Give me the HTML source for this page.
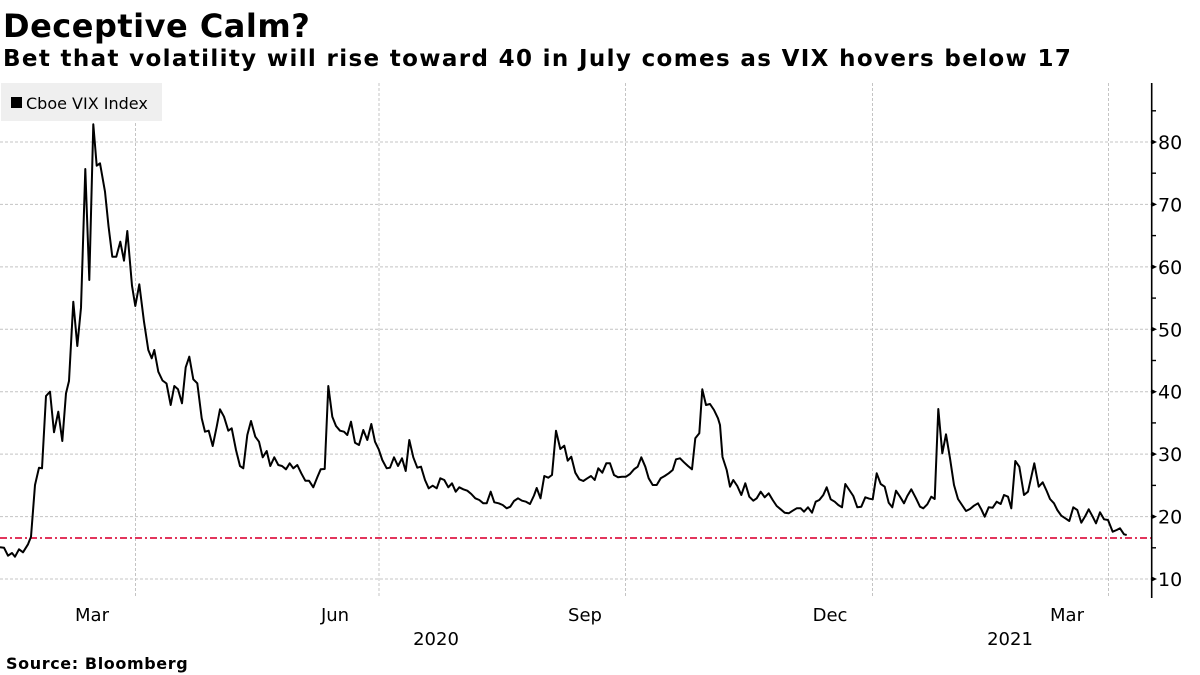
<!DOCTYPE html>
<html>
<head>
<meta charset="utf-8">
<style>
  html, body { margin:0; padding:0; background:#ffffff; }
  body { width:1200px; height:675px; overflow:hidden; }
  svg { display:block; }
  .t { font-family: "DejaVu Sans", "Liberation Sans", sans-serif; fill:#000; }
</style>
</head>
<body>
<svg width="1200" height="675" viewBox="0 0 1200 675" xmlns="http://www.w3.org/2000/svg">
  <rect x="0" y="0" width="1200" height="675" fill="#ffffff"/>

  <!-- Title -->
  <text class="t" x="3" y="37" font-size="32" font-weight="bold" letter-spacing="0.5">Deceptive Calm?</text>
  <text class="t" x="3" y="66" font-size="23" font-weight="bold" letter-spacing="1.35">Bet that volatility will rise toward 40 in July comes as VIX hovers below 17</text>

  <!-- Horizontal grid -->
  <g stroke="#c4c4c4" stroke-width="1" stroke-dasharray="3 2">
    <line x1="0" y1="579" x2="1151" y2="579"/>
    <line x1="0" y1="516.6" x2="1151" y2="516.6"/>
    <line x1="0" y1="454.1" x2="1151" y2="454.1"/>
    <line x1="0" y1="391.7" x2="1151" y2="391.7"/>
    <line x1="0" y1="329.3" x2="1151" y2="329.3"/>
    <line x1="0" y1="266.9" x2="1151" y2="266.9"/>
    <line x1="0" y1="204.4" x2="1151" y2="204.4"/>
    <line x1="0" y1="142" x2="1151" y2="142"/>
  </g>
  <!-- Vertical grid -->
  <g stroke="#c4c4c4" stroke-width="1" stroke-dasharray="3 2">
    <line x1="135.5" y1="83" x2="135.5" y2="598"/>
    <line x1="379" y1="83" x2="379" y2="598"/>
    <line x1="625.5" y1="83" x2="625.5" y2="598"/>
    <line x1="872.5" y1="83" x2="872.5" y2="598"/>
    <line x1="1108.5" y1="83" x2="1108.5" y2="598"/>
  </g>

  <!-- Legend -->
  <rect x="1" y="83" width="161" height="38" fill="#efefef"/>
  <rect x="11" y="97" width="11" height="11" fill="#000"/>
  <text class="t" x="26" y="109" font-size="16">Cboe VIX Index</text>

  <!-- Red reference line -->
  <line x1="0" y1="538" x2="1151" y2="538" stroke="#e2355c" stroke-width="2" stroke-dasharray="7 3 2 3"/>

  <!-- VIX series -->
  <polyline fill="none" stroke="#000" stroke-width="2" stroke-linejoin="round" points="
0,547.3 4,547.7 8,555.7 12,553 15,556.7 19,549.3 23,552.3 28,544.3 31,536.7 35,485 39,467.7 42,468.3 46,396 50,391.7 54,432.3 58.3,411.7 62.3,441 66,393.3 69,381 73.3,301.7 77.3,346 81,307.7 85.3,169 89.3,280 93.3,124.3 96.7,165.7 100,163.3 105,191.7 108.5,226 112.3,256.7 116.3,256.7 120.3,241.7 124,260.7 127.3,231 132,285.7 135.3,306 139.3,284.3 144,321.7 148.3,350 151.7,358.3 154.3,350 158.3,371.7 162.5,380.5 166.5,383.5 170.7,405
174.3,386 178,389.3 182,403.3 185.7,367.3 189.3,356.7 193.3,379.3 197.3,383.3 201.7,418.3 205,431.7 208.7,430.7 212.7,446 216.7,426.7 220,409.3 224,416.7 228.3,430.7 231.7,428.3 236,450 240,466 243.3,468.3 247.3,435 251,421 255.3,436.7 259,441.7 262.7,457.3 266.7,451 270.3,466 274.3,457.3 278.3,465 282,466 286,469.3 289.7,463.3 293.3,468.3 297.3,465 301.3,473.3 305.3,480.7 309,480.7 313.3,487.3 317.3,477.3 320.7,469.3 324.7,469 328.3,386 332.3,416.7 336,426 340,430.7 344,431.7 347.3,435 351,421.7 355,442.7 359,445
363.3,430 367.3,440 371.3,424 375,441.7 378.7,449.3 382.3,460 386.7,468.3 390,467.7 394,457.3 398,466 402,458.3 405.7,471 409.3,440 413.3,457.3 417.3,467.7 421,466.7 425,480 428.7,488.3 432.7,485.7 436.7,488.3 440.3,478.3 444.3,480 448.3,487.3 452,483.3 455.7,491.7 459.3,487.3 463.3,489.3 467.3,490.7 471.3,494 475.3,498.3 479.3,500 483.3,503.3 486.7,503.3 490.7,491.7 494.3,502.3 498.7,503.3 502.7,505 506.7,508.3 510.3,506.7 514,501 518,498.3 522,500.7 526,501.7 530,504 534,495.5 536.7,488 540.5,498.3
544.3,476 548.3,477.7 552,475 556,430.7 560.3,449 564.3,445.7 567.7,460.7 571.3,456.7 575.3,472.7 579.3,479.3 583.3,481 587.3,478.3 591,476 594.7,480 598.3,468.3 602.3,472.7 606.3,463.3 610,463.3 614,475 618,477.3 622,476.7 626,476.7 630,474 634,469.3 637.7,466.7 641.3,457.3 645.3,466.7 648.7,478.3 652.7,485 656.7,485 660.7,478.3 664.7,476 668.7,473.3 672.7,470 676,459.3 680,458.3 684,462.3 688,466 692,469.3 695.3,438.3 699.3,433.3 702.3,389.3 706,405 710,404 714,410 718,418.3 720,425 722.5,457
726.7,470 730,486.7 733.3,480 737.3,486 741.3,495 745.3,483.3 749.3,496.7 753.3,500.7 756.7,498.3 760.7,491.7 764.7,497.3 768.7,493.3 772.7,500 776.7,506 780.7,509.3 784.7,512.7 788.7,513.3 792.7,510.7 796.7,508.3 800.7,508.3 804,511.7 808,507.3 812,512.7 815.7,501.7 819.3,500 823.3,495 826.7,487.3 830.7,499.3 834.7,501.7 838.3,505 842,507.3 845.3,484 849.3,490 853.3,496 857.3,507.3 861.3,506.7 865.3,497.3 869.3,498.7 872.7,499.3 876.7,473.3 880.7,484 884.7,486.7 888.7,502.7 892.3,507.3 896,490.7 900,496.7 904,503.3 907.3,496 911.3,489.3
916,498.3 920,506.7 923.3,508.3 927.3,504.3 931.3,496.7 934.7,499 938.3,409 942.3,453.3 946,434.3 950,458.3 954,485 958,499 962,505 966,511 970,509 974,505.7 978,503.3 981.3,509.3 984.7,516.7 988.7,507.3 992.7,507.7 996.7,501.7 1000.7,504 1004,495 1008,496.7 1011.3,508.3 1015.3,461 1019.3,466.7 1024,495 1028,491.7 1034.3,463.3 1038.7,486.7 1042.7,482.3 1046.7,491 1050,499 1054,503.3 1057.3,510 1061.3,515.7 1065.3,518.3 1069.3,521 1073.3,507.3 1077.3,510 1081.3,522.7 1085.3,516 1088.7,509.3 1092.7,516.7 1096,523.3 1100,512.3 1104,519.3 1108,520 1112.7,531.7 1116.7,530 1120,528.3 1124,534.3 1126.7,535
"/>

  <!-- Right axis -->
  <line x1="1151.7" y1="83" x2="1151.7" y2="598" stroke="#000" stroke-width="1.6"/>
  <g stroke="#000" stroke-width="1.4">
    <line x1="1151.7" y1="547.8" x2="1156" y2="547.8"/>
    <line x1="1151.7" y1="485.4" x2="1156" y2="485.4"/>
    <line x1="1151.7" y1="422.9" x2="1156" y2="422.9"/>
    <line x1="1151.7" y1="360.5" x2="1156" y2="360.5"/>
    <line x1="1151.7" y1="298.1" x2="1156" y2="298.1"/>
    <line x1="1151.7" y1="235.6" x2="1156" y2="235.6"/>
    <line x1="1151.7" y1="173.2" x2="1156" y2="173.2"/>
    <line x1="1151.7" y1="110.8" x2="1156" y2="110.8"/>
  </g>
  <g fill="#000">
    <polygon points="1151.7,576.5 1157,579 1151.7,581.5"/>
    <polygon points="1151.7,514.1 1157,516.6 1151.7,519.1"/>
    <polygon points="1151.7,451.6 1157,454.1 1151.7,456.6"/>
    <polygon points="1151.7,389.2 1157,391.7 1151.7,394.2"/>
    <polygon points="1151.7,326.8 1157,329.3 1151.7,331.8"/>
    <polygon points="1151.7,264.4 1157,266.9 1151.7,269.4"/>
    <polygon points="1151.7,201.9 1157,204.4 1151.7,206.9"/>
    <polygon points="1151.7,139.5 1157,142 1151.7,144.5"/>
  </g>
  <g class="t" font-size="19">
    <text x="1158" y="586">10</text>
    <text x="1158" y="523.6">20</text>
    <text x="1158" y="461.1">30</text>
    <text x="1158" y="398.7">40</text>
    <text x="1158" y="336.3">50</text>
    <text x="1158" y="273.9">60</text>
    <text x="1158" y="211.4">70</text>
    <text x="1158" y="149">80</text>
  </g>

  <!-- X labels -->
  <g class="t" font-size="18" text-anchor="middle">
    <text x="92" y="621">Mar</text>
    <text x="335" y="621">Jun</text>
    <text x="585" y="621">Sep</text>
    <text x="830" y="621">Dec</text>
    <text x="1067" y="621">Mar</text>
    <text x="436" y="645">2020</text>
    <text x="1010" y="645">2021</text>
  </g>

  <!-- Source -->
  <text class="t" x="6" y="669" font-size="16" font-weight="bold" letter-spacing="0.6">Source:  Bloomberg</text>
</svg>
</body>
</html>
